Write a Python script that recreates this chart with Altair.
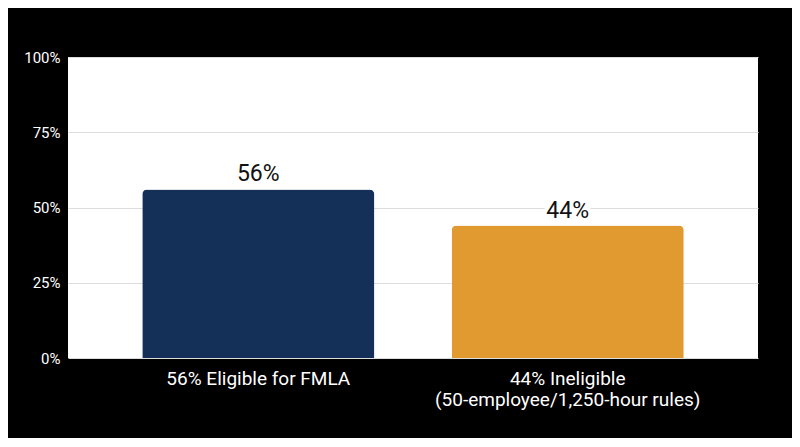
import altair as alt
import pandas as pd

categories = ["56% Eligible for FMLA", "44% Ineligible\n(50-employee/1,250-hour rules)"]
values = [0.56, 0.44]
labels = ["56%", "44%"]
colors = ["#142f58", "#e09a2f"]

df = pd.DataFrame({"cat": categories, "val": values, "lab": labels})

x = alt.X("cat:N", sort=categories, title=None,
          scale=alt.Scale(paddingInner=0.25, paddingOuter=0.24),
          axis=alt.Axis(labelAngle=0, labelColor="white", labelFontSize=19,
                        labelFont="Roboto", labelLineHeight=21, labelPadding=11,
                        labelExpr="split(datum.label, '\\n')", ticks=False,
                        domain=False, labelLimit=400))
y = alt.Y("val:Q", title=None,
          scale=alt.Scale(domain=[0, 1]),
          axis=alt.Axis(format="%", values=[0, 0.25, 0.5, 0.75, 1.0],
                        labelColor="white", labelFontSize=15, labelFont="Roboto",
                        ticks=False, domain=False, gridColor="#dddddd",
                        labelPadding=8))

bars = alt.Chart(df).mark_bar(cornerRadiusTopLeft=5, cornerRadiusTopRight=5).encode(
    x=x, y=y,
    color=alt.Color("cat:N", scale=alt.Scale(domain=categories, range=colors), legend=None),
)

halo = alt.Chart(df).mark_text(dy=-15, fontSize=23, font="Roboto", stroke="white",
                               strokeWidth=8, color="white").encode(
    x=alt.X("cat:N", sort=categories), y="val:Q", text="lab:N")
txt = alt.Chart(df).mark_text(dy=-15, fontSize=23, font="Roboto", color="#111111").encode(
    x=alt.X("cat:N", sort=categories), y="val:Q", text="lab:N")

chart = alt.layer(bars, halo, txt).properties(
    width=690, height=301,
    autosize=alt.AutoSizeParams(type="none"),
    padding={"left": 60, "top": 49, "right": 34, "bottom": 80},
    background="black",
).configure_view(fill="white", stroke=None)

chart.save("out.html", embed_options={"renderer": "svg", "actions": False})
